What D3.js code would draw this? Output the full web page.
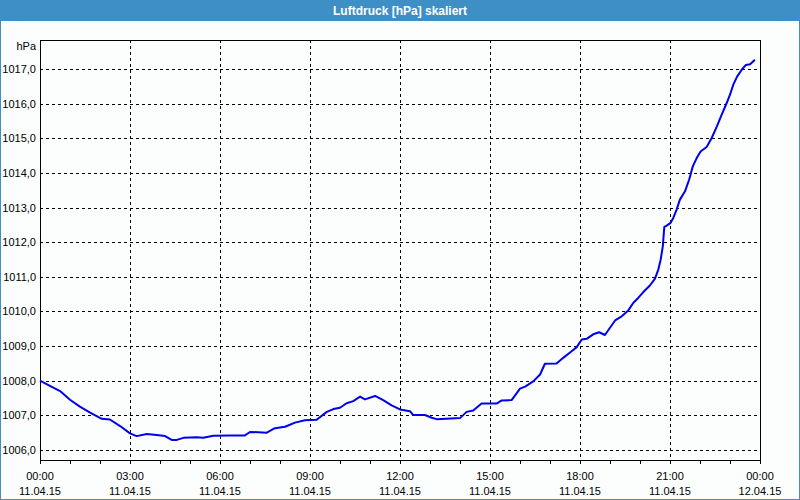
<!DOCTYPE html>
<html>
<head>
<meta charset="utf-8">
<script src="https://cdn.jsdelivr.net/npm/d3@7"></script>
<style>
  html, body { margin: 0; padding: 0; background: #fbfefc; }
  svg { display: block; }
  text { font-family: "Liberation Sans", Arial, sans-serif; }
</style>
</head>
<body>
<svg id="chart" width="800" height="500"></svg>
<script>
// ---- data ----
const chartTitle = "Luftdruck [hPa] skaliert";
const unitLabel = "hPa";
// hours after 11.04.15 00:00
const hours = [0.00,0.33,0.67,1.00,1.33,1.67,2.06,2.33,2.67,3.00,3.22,3.56,3.89,4.17,4.39,4.56,4.78,5.22,5.44,5.78,6.33,6.83,7.00,7.56,7.83,8.17,8.50,8.83,9.22,9.56,9.78,10.00,10.22,10.44,10.67,10.83,11.17,11.44,11.72,12.00,12.33,12.44,12.83,13.06,13.22,14.00,14.22,14.44,14.72,15.22,15.39,15.72,16.00,16.17,16.44,16.67,16.83,17.22,17.44,17.72,17.89,18.06,18.22,18.44,18.64,18.83,19.00,19.17,19.39,19.61,19.78,19.94,20.11,20.33,20.50,20.61,20.69,20.76,20.81,20.89,21.02,21.11,21.22,21.33,21.50,21.64,21.76,21.89,22.02,22.22,22.39,22.56,22.72,22.89,23.00,23.11,23.24,23.39,23.53,23.67,23.83];
const pressure = [1008.00,1007.85,1007.70,1007.45,1007.25,1007.08,1006.90,1006.88,1006.69,1006.48,1006.40,1006.46,1006.43,1006.40,1006.29,1006.29,1006.35,1006.37,1006.35,1006.41,1006.42,1006.42,1006.52,1006.50,1006.63,1006.67,1006.79,1006.86,1006.87,1007.10,1007.18,1007.22,1007.35,1007.41,1007.54,1007.46,1007.56,1007.44,1007.29,1007.17,1007.12,1007.01,1007.01,1006.93,1006.89,1006.92,1007.10,1007.14,1007.34,1007.34,1007.43,1007.44,1007.77,1007.83,1007.98,1008.18,1008.49,1008.50,1008.66,1008.85,1008.97,1009.19,1009.21,1009.34,1009.40,1009.32,1009.53,1009.74,1009.86,1010.03,1010.25,1010.39,1010.56,1010.75,1010.95,1011.21,1011.50,1011.88,1012.44,1012.48,1012.56,1012.70,1012.94,1013.23,1013.47,1013.81,1014.19,1014.43,1014.62,1014.75,1015.01,1015.34,1015.68,1016.02,1016.26,1016.55,1016.79,1016.98,1017.12,1017.14,1017.27];
const yTicks = [1006,1007,1008,1009,1010,1011,1012,1013,1014,1015,1016,1017];
const xTickHours = [0,3,6,9,12,15,18,21,24];
const xTimeLabels = ["00:00","03:00","06:00","09:00","12:00","15:00","18:00","21:00","00:00"];
const xDateLabels = ["11.04.15","11.04.15","11.04.15","11.04.15","11.04.15","11.04.15","11.04.15","11.04.15","12.04.15"];
const yDomain = [1005.71, 1017.84];

// ---- layout ----
const W = 800, H = 500;
const plot = {left: 40, top: 40, right: 760, bottom: 460};
const svg = d3.select("#chart");

const x = d3.scaleLinear().domain([0, 24]).range([plot.left, plot.right]);
const y = d3.scaleLinear().domain(yDomain).range([plot.bottom, plot.top]);

// background
svg.append("rect").attr("x",0).attr("y",0).attr("width",W).attr("height",H).attr("fill","#fbfefc");

// title bar
svg.append("rect").attr("x",0).attr("y",0).attr("width",W).attr("height",21).attr("fill","#3d8fc6");
svg.append("text").attr("x",W/2).attr("y",15).attr("text-anchor","middle")
  .attr("fill","#ffffff").attr("font-weight","bold").attr("font-size","12px").text(chartTitle);

// outer border
svg.append("rect").attr("x",0.5).attr("y",0.5).attr("width",W-1).attr("height",H-1)
  .attr("fill","none").attr("stroke","#3d8fc6").attr("stroke-width",1);

// grid
const grid = svg.append("g").attr("shape-rendering","crispEdges");
grid.selectAll("line.h").data(yTicks).join("line").attr("class","h")
  .attr("x1",plot.left).attr("x2",plot.right)
  .attr("y1",d=>Math.round(y(d))+0.5).attr("y2",d=>Math.round(y(d))+0.5)
  .attr("stroke","#000").attr("stroke-dasharray","3,3");
grid.selectAll("line.v").data(xTickHours.filter(h=>h>0&&h<24)).join("line").attr("class","v")
  .attr("y1",plot.top).attr("y2",plot.bottom)
  .attr("x1",d=>Math.round(x(d))+0.5).attr("x2",d=>Math.round(x(d))+0.5)
  .attr("stroke","#000").attr("stroke-dasharray","3,3");

// x axis ticks (hourly)
const xAxis = d3.axisBottom(x).tickValues(d3.range(0,25,1)).tickSize(4).tickFormat("");
const xg = svg.append("g").attr("transform",`translate(0,${plot.bottom})`).call(xAxis);
xg.select(".domain").remove();
xg.selectAll("line").attr("stroke","#000").attr("shape-rendering","crispEdges");

// x labels
const xl = svg.append("g");
xl.selectAll("text.t").data(xTickHours).join("text").attr("class","t")
  .attr("x",d=>x(d)).attr("y",480).attr("text-anchor","middle")
  .attr("font-size","11px").attr("fill","#000").text((d,i)=>xTimeLabels[i]);
xl.selectAll("text.d").data(xTickHours).join("text").attr("class","d")
  .attr("x",d=>x(d)).attr("y",495).attr("text-anchor","middle")
  .attr("font-size","11px").attr("fill","#000").text((d,i)=>xDateLabels[i]);

// y labels
const yAxis = d3.axisLeft(y).tickValues(yTicks).tickSize(0).tickPadding(4)
  .tickFormat(d => d3.format(".1f")(d).replace(".", ","));
const yg = svg.append("g").attr("transform",`translate(${plot.left},0)`).call(yAxis);
yg.select(".domain").remove();
yg.selectAll("text").attr("font-size","11px").attr("fill","#000")
  .attr("font-family","'Liberation Sans', Arial, sans-serif");

svg.append("text").attr("x",36).attr("y",50).attr("text-anchor","end")
  .attr("font-size","11px").attr("fill","#000").text(unitLabel);

// frame
svg.append("rect").attr("x",plot.left+0.5).attr("y",plot.top+0.5)
  .attr("width",plot.right-plot.left).attr("height",plot.bottom-plot.top)
  .attr("fill","none").attr("stroke","#000").attr("stroke-width",1);

// line
const data = hours.map((h,i)=>({h, p: pressure[i]}));
svg.append("path").datum(data)
  .attr("fill","none").attr("stroke","#0000ee").attr("stroke-width",2)
  .attr("stroke-linejoin","round")
  .attr("d", d3.line().x(d=>x(d.h)).y(d=>y(d.p)));
</script>
</body>
</html>
